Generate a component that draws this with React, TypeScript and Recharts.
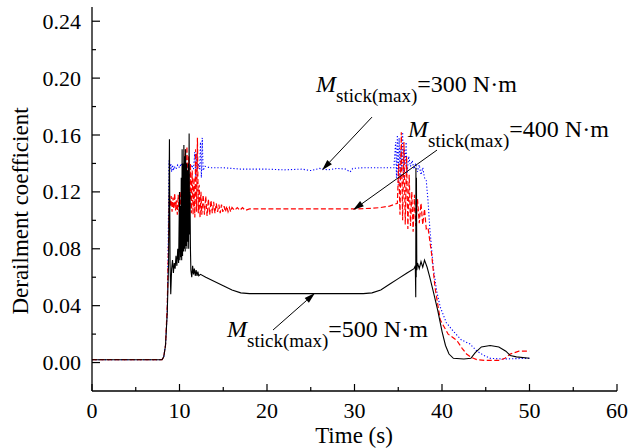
import { LineChart, Line, XAxis, YAxis, ReferenceLine } from "recharts";

// Time (s) vs derailment coefficient
const black500: [number, number][] = [
  [0, 0.002], [8.0, 0.002], [8.2, 0.004], [8.4, 0.012], [8.6, 0.035], [8.75, 0.07],
  [8.85, 0.157], [8.92, 0.07], [9.0, 0.048], [9.1, 0.066], [9.2, 0.072], [9.3, 0.063],
  [9.4, 0.07], [9.5, 0.066], [9.6, 0.075], [9.7, 0.068], [9.8, 0.08], [9.9, 0.07],
  [10.0, 0.12], [10.05, 0.072], [10.1, 0.11], [10.15, 0.074], [10.2, 0.13], [10.25, 0.072],
  [10.3, 0.15], [10.35, 0.075], [10.4, 0.14], [10.45, 0.078], [10.5, 0.153], [10.55, 0.08],
  [10.6, 0.145], [10.65, 0.078], [10.7, 0.15], [10.75, 0.082], [10.8, 0.14], [10.85, 0.08],
  [10.9, 0.135], [10.95, 0.085], [11.0, 0.14], [11.05, 0.08], [11.1, 0.161], [11.15, 0.09],
  [11.2, 0.12], [11.25, 0.08], [11.3, 0.065], [11.4, 0.06], [11.5, 0.068], [11.6, 0.062],
  [11.7, 0.066], [11.8, 0.061], [11.9, 0.065], [12.0, 0.061], [12.1, 0.064], [12.2, 0.061],
  [12.4, 0.062], [13, 0.06], [14, 0.057], [15, 0.054], [16, 0.051], [17, 0.049],
  [18, 0.0485], [24, 0.0485], [31, 0.0485], [32, 0.049], [33, 0.051], [34, 0.055],
  [35, 0.059], [36, 0.063], [36.8, 0.066], [36.95, 0.068], [37.0, 0.046], [37.02, 0.137],
  [37.05, 0.06], [37.08, 0.13], [37.12, 0.065], [37.2, 0.07], [37.4, 0.066], [37.6, 0.071],
  [37.8, 0.067], [38.0, 0.072], [38.3, 0.067], [38.6, 0.06], [39.0, 0.05], [39.5, 0.037],
  [40.0, 0.022], [40.4, 0.012], [40.8, 0.006], [41.3, 0.003], [42.5, 0.0025], [43.3, 0.003],
  [43.8, 0.007], [44.5, 0.011], [45.5, 0.012], [46.5, 0.011], [47.3, 0.008], [47.8, 0.005],
  [48.5, 0.004], [50, 0.003],
];

const red400: [number, number][] = [
  [0, 0.002], [8.0, 0.002], [8.2, 0.004], [8.4, 0.012], [8.6, 0.04], [8.75, 0.085],
  [8.85, 0.118], [8.95, 0.11], [9.05, 0.117], [9.15, 0.106], [9.25, 0.116], [9.35, 0.108],
  [9.45, 0.119], [9.55, 0.107], [9.65, 0.114], [9.75, 0.104], [9.85, 0.118], [9.95, 0.106],
  [10.05, 0.12], [10.15, 0.105], [10.25, 0.125], [10.35, 0.108], [10.45, 0.14], [10.55, 0.11],
  [10.65, 0.15], [10.75, 0.115], [10.85, 0.152], [10.95, 0.12], [11.05, 0.145], [11.15, 0.108],
  [11.25, 0.14], [11.35, 0.105], [11.45, 0.135], [11.55, 0.104], [11.65, 0.13], [11.75, 0.102],
  [11.85, 0.15], [11.95, 0.106], [12.05, 0.158], [12.15, 0.105], [12.25, 0.125], [12.35, 0.102],
  [12.45, 0.12], [12.55, 0.104], [12.7, 0.118], [12.85, 0.104], [13.0, 0.117], [13.15, 0.103],
  [13.3, 0.115], [13.45, 0.104], [13.6, 0.114], [13.75, 0.105], [13.9, 0.113], [14.05, 0.105],
  [14.2, 0.112], [14.35, 0.106], [14.5, 0.111], [14.65, 0.105], [14.8, 0.111], [14.95, 0.106],
  [15.1, 0.11], [15.25, 0.106], [15.4, 0.11], [15.55, 0.106], [15.7, 0.109], [15.85, 0.106],
  [16.0, 0.109], [16.3, 0.107], [16.6, 0.109], [16.9, 0.107], [17.2, 0.109], [17.5, 0.107],
  [18, 0.108], [25, 0.108], [30, 0.108], [32, 0.1085], [33, 0.109], [34, 0.11],
  [34.9, 0.112], [35.05, 0.14], [35.2, 0.104], [35.35, 0.162], [35.5, 0.1], [35.65, 0.155],
  [35.8, 0.097], [35.95, 0.145], [36.1, 0.094], [36.25, 0.132], [36.4, 0.096], [36.55, 0.12],
  [36.7, 0.092], [36.85, 0.118], [37.0, 0.096], [37.2, 0.115], [37.4, 0.098], [37.6, 0.112],
  [37.8, 0.097], [38.0, 0.108], [38.2, 0.094], [38.4, 0.095], [38.8, 0.077],
  [39.2, 0.053], [39.8, 0.03], [40.7, 0.02], [41.7, 0.0155], [42.3, 0.01], [42.8, 0.006],
  [43.4, 0.0035], [44.0, 0.002], [45, 0.0015], [46.5, 0.0015], [47.2, 0.003], [47.8, 0.006],
  [48.8, 0.008], [50, 0.008],
];

const blue300: [number, number][] = [
  [0, 0.002], [8.0, 0.002], [8.2, 0.004], [8.4, 0.012], [8.6, 0.035], [8.7, 0.08],
  [8.8, 0.142], [8.9, 0.136], [9.0, 0.14], [9.1, 0.134], [9.2, 0.139], [9.3, 0.135],
  [9.4, 0.138], [9.6, 0.136], [9.8, 0.139], [10.0, 0.137], [10.2, 0.14], [10.4, 0.137],
  [10.6, 0.14], [10.8, 0.136], [11.0, 0.14], [11.2, 0.135], [11.4, 0.139], [11.6, 0.136],
  [11.75, 0.148], [11.85, 0.13], [11.95, 0.147], [12.05, 0.135], [12.15, 0.14], [12.3, 0.136],
  [12.4, 0.155], [12.5, 0.13], [12.6, 0.158], [12.7, 0.135], [12.9, 0.138], [13.5, 0.137],
  [15, 0.137], [17, 0.136], [20, 0.136], [22, 0.1355], [24, 0.136], [25, 0.135],
  [26, 0.1365], [27, 0.1355], [28, 0.1365], [29, 0.136], [29.5, 0.134], [29.8, 0.1365],
  [31, 0.137], [33, 0.137], [34.5, 0.137], [34.7, 0.155], [34.8, 0.13], [34.9, 0.16],
  [35.0, 0.125], [35.1, 0.158], [35.2, 0.128], [35.3, 0.15], [35.4, 0.135], [35.5, 0.162],
  [35.6, 0.13], [35.7, 0.15], [35.8, 0.138], [35.9, 0.155], [36.0, 0.133], [36.2, 0.145],
  [36.4, 0.138], [36.6, 0.142], [36.8, 0.136], [37.0, 0.14], [37.2, 0.134], [37.4, 0.139],
  [37.6, 0.132], [37.8, 0.137], [38.0, 0.13], [38.2, 0.128], [38.4, 0.114], [38.6, 0.095],
  [39.0, 0.067], [39.4, 0.05], [39.8, 0.039], [40.5, 0.028], [41.3, 0.022], [42.2, 0.016],
  [43.2, 0.013], [44.0, 0.008], [44.8, 0.005], [45.5, 0.003], [47, 0.0025], [50, 0.003],
];

const xTicks = [0, 5, 10, 15, 20, 25, 30, 35, 40, 45, 50, 55, 60];
const yTicks = [0, 0.02, 0.04, 0.06, 0.08, 0.1, 0.12, 0.14, 0.16, 0.18, 0.2, 0.22, 0.24];

// annotation arrows, [from, to] in data units
const arrow300 = [{ x: 32.0, y: 0.1726 }, { x: 26.29, y: 0.1353 }];
const arrow400 = [{ x: 39.43, y: 0.1494 }, { x: 29.83, y: 0.1072 }];
const arrow500 = [{ x: 20.69, y: 0.0229 }, { x: 25.49, y: 0.0489 }];

const FONT = "'Liberation Serif', 'Times New Roman', Times, serif";

const toRows = (pts: [number, number][]) => pts.map(([t, v]) => ({ t, v }));

const YTick = ({ x, y, payload }: any) => {
  const major = Math.abs(payload.value / 0.04 - Math.round(payload.value / 0.04)) < 1e-6;
  return (
    <g>
      <line x1={x} y1={y} x2={x + (major ? 8 : 4)} y2={y} stroke="#000" strokeWidth={1.2} />
      {major && (
        <text x={x - 11} y={y + 7.5} textAnchor="end" fontSize={22} style={{ fontFamily: FONT }} fill="#000">
          {payload.value.toFixed(2)}
        </text>
      )}
    </g>
  );
};

const XTick = ({ x, y, payload }: any) => {
  const major = payload.value % 10 === 0;
  return (
    <g>
      <line x1={x} y1={y} x2={x} y2={y - (major ? 7 : 4)} stroke="#000" strokeWidth={1.2} />
      {major && (
        <text x={x} y={y + 27} textAnchor="middle" fontSize={22} style={{ fontFamily: FONT }} fill="#000">
          {payload.value}
        </text>
      )}
    </g>
  );
};

const Arrow = (props: any) => {
  const { x1, y1, x2, y2 } = props;
  const a = Math.atan2(y2 - y1, x2 - x1);
  const len = 11;
  const w = 3.2;
  const bx = x2 - len * Math.cos(a);
  const by = y2 - len * Math.sin(a);
  const px = -Math.sin(a) * w;
  const py = Math.cos(a) * w;
  return (
    <g>
      <line x1={x1} y1={y1} x2={bx} y2={by} stroke="#000" strokeWidth={1} />
      <polygon points={`${x2},${y2} ${bx + px},${by + py} ${bx - px},${by - py}`} fill="#000" />
    </g>
  );
};

const Note = ({ x, y, value }: { x: number; y: number; value: string }) => (
  <text x={x} y={y} style={{ fontFamily: FONT }} fill="#000">
    <tspan fontStyle="italic" fontSize={24}>M</tspan>
    <tspan fontSize={19} dy={10}>stick(max)</tspan>
    <tspan fontSize={24} dy={-10}>{value}</tspan>
  </text>
);

export default function App() {
  return (
    <div style={{ position: "absolute", left: 0, top: 0, width: 635, height: 448, background: "#fff" }}>
      <LineChart width={635} height={448} margin={{ top: 7, right: 18, left: 32, bottom: 27 }}>
        <XAxis
          type="number"
          dataKey="t"
          domain={[0, 60]}
          ticks={xTicks}
          interval={0}
          height={30}
          tickSize={0}
          tickMargin={0}
          tick={<XTick />}
          axisLine={{ stroke: "#000", strokeWidth: 1.3 }}
          allowDataOverflow
        />
        <XAxis
          xAxisId="top"
          orientation="top"
          type="number"
          dataKey="t"
          domain={[0, 60]}
          height={0}
          tick={false}
          tickLine={false}
          axisLine={{ stroke: "#000", strokeWidth: 1.3 }}
        />
        <YAxis
          type="number"
          domain={[-0.02, 0.25]}
          ticks={yTicks}
          interval={0}
          width={60}
          tickSize={0}
          tickMargin={0}
          tick={<YTick />}
          axisLine={{ stroke: "#000", strokeWidth: 1.3 }}
          allowDataOverflow
        />
        <YAxis
          yAxisId="right"
          orientation="right"
          type="number"
          domain={[-0.02, 0.25]}
          width={0}
          tick={false}
          tickLine={false}
          axisLine={{ stroke: "#000", strokeWidth: 1.3 }}
        />
        <Line
          data={toRows(blue300)}
          dataKey="v"
          type="linear"
          stroke="#0000ff"
          strokeWidth={1.1}
          strokeDasharray="1.2 2"
          dot={false}
          isAnimationActive={false}
        />
        <Line
          data={toRows(red400)}
          dataKey="v"
          type="linear"
          stroke="#ff0000"
          strokeWidth={1.2}
          strokeDasharray="5 2.5"
          dot={false}
          isAnimationActive={false}
        />
        <Line
          data={toRows(black500)}
          dataKey="v"
          type="linear"
          stroke="#000"
          strokeWidth={1.1}
          dot={false}
          isAnimationActive={false}
        />
        <ReferenceLine segment={arrow300} shape={<Arrow />} ifOverflow="visible" />
        <ReferenceLine segment={arrow400} shape={<Arrow />} ifOverflow="visible" />
        <ReferenceLine segment={arrow500} shape={<Arrow />} ifOverflow="visible" />
      </LineChart>
      <svg
        width={635}
        height={448}
        style={{ position: "absolute", left: 0, top: 0, pointerEvents: "none" }}
      >
        <Note x={316} y={92} value="=300 N·m" />
        <Note x={408} y={137} value="=400 N·m" />
        <Note x={227} y={337} value="=500 N·m" />
        <text
          transform="translate(28, 211) rotate(-90)"
          textAnchor="middle"
          fontSize={23}
          style={{ fontFamily: FONT }}
          fill="#000"
        >
          Derailment coefficient
        </text>
        <text x={354} y={443} textAnchor="middle" fontSize={23} style={{ fontFamily: FONT }} fill="#000">
          Time (s)
        </text>
      </svg>
    </div>
  );
}
